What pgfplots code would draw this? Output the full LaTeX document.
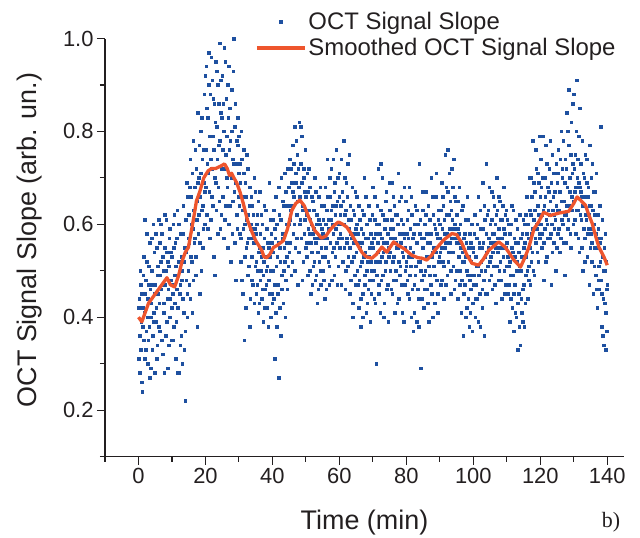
\documentclass[border=0pt]{standalone}
\usepackage{pgfplots}
\pgfplotsset{compat=1.18}
\usepackage{fontspec}
\setmainfont{Liberation Sans}
\newfontfamily\seriffont{Liberation Serif}
\definecolor{dotblue}{RGB}{30,80,160}
\definecolor{smred}{RGB}{238,85,45}
\definecolor{axgray}{RGB}{35,31,32}
\pgfplotsset{
  dotlegend/.style={legend image code/.code={\draw[mark repeat=2,mark phase=2,##1] plot coordinates {(0bp,0bp) (24bp,0bp) (48bp,0bp)};}},
  linelegend/.style={legend image code/.code={\draw[##1] (0bp,0bp) -- (48bp,0bp);}},
  dots/.style={dotblue, only marks, mark=square*, mark size=1.3bp, mark options={draw=dotblue, fill=dotblue, line width=0.4bp}},
}
\begin{document}
\begin{tikzpicture}
\path[use as bounding box] (-105bp,-81.5bp) rectangle (535bp,456.5bp);
\begin{axis}[
  scale only axis, width=519bp, height=418bp,
  xmin=-10, xmax=145, ymin=0.1, ymax=1.0,
  axis x line*=bottom, axis y line*=left,
  axis line style={axgray, line width=1.2bp, -},
  xtick align=outside, ytick align=outside,
  major tick length=8bp, minor tick length=5bp,
  tick style={axgray, line width=1.1bp},
  xtick={0,20,40,60,80,100,120,140},
  minor xtick={-10,10,30,50,70,90,110,130},
  ytick={0.2,0.4,0.6,0.8,1.0},
  minor ytick={0.1,0.3,0.5,0.7,0.9},
  yticklabel style={/pgf/number format/.cd, fixed, fixed zerofill, precision=1},
  /pgf/number format/assume math mode=true,
  tick label style={font=\fontsize{22}{26}\selectfont, text=axgray},
  label style={font=\fontsize{27}{32}\selectfont, text=axgray},
  xlabel={Time (min)},
  ylabel={OCT Signal Slope (arb. un.)},
  xlabel style={at={(axis description cs:0.5,-0.157)}, anchor=center},
  ylabel style={at={(axis description cs:-0.1445,0.518)}, anchor=center},
  clip mode=individual,
  legend style={at={(axis description cs:0.289,1.068)}, anchor=north west, draw=none, fill=none,
    font=\fontsize{24}{28}\selectfont, text=axgray, inner sep=0pt, row sep=3.5bp},
  legend cell align=left,
]
\addplot[dots, dotlegend]
coordinates {
(0,0.31)(0.2,0.44)(0.4,0.28)(0.6,0.47)(0.8,0.39)(1,0.26)(1.2,0.42)(1.4,0.49)(1.6,0.35)(1.8,0.61)
(2,0.45)(2.2,0.33)(2.4,0.52)(2.6,0.40)(2.8,0.30)(3,0.47)(3.2,0.38)(3.4,0.56)(3.6,0.29)(3.8,0.43)
(4,0.50)(4.2,0.36)(4.4,0.60)(4.6,0.41)(4.8,0.28)
(5,0.47)(5.2,0.39)(5.4,0.55)(5.6,0.34)(5.8,0.49)(6,0.61)(6.2,0.43)(6.4,0.37)(6.6,0.52)(6.8,0.46)
(7,0.58)(7.2,0.32)(7.4,0.50)(7.6,0.41)(7.8,0.62)(8,0.47)(8.2,0.36)(8.4,0.54)(8.6,0.44)(8.8,0.29)
(9,0.51)(9.2,0.57)(9.4,0.40)(9.6,0.48)(9.8,0.35)
(10,0.53)(10.2,0.45)(10.4,0.60)(10.6,0.38)(10.8,0.49)(11,0.56)(11.2,0.31)(11.4,0.46)(11.6,0.63)(11.8,0.42)
(12,0.52)(12.2,0.28)(12.4,0.47)(12.6,0.58)(12.8,0.36)(13,0.50)(13.2,0.44)(13.4,0.64)(13.6,0.33)(13.8,0.55)
(14,0.22)(14.2,0.48)(14.4,0.69)(14.6,0.40)(14.8,0.57)
(15,0.62)(15.2,0.47)(15.4,0.74)(15.6,0.53)(15.8,0.66)(16,0.41)(16.2,0.59)(16.4,0.78)(16.6,0.56)(16.8,0.68)
(17,0.49)(17.2,0.72)(17.4,0.61)(17.6,0.84)(17.8,0.58)(18,0.70)(18.2,0.45)(18.4,0.66)(18.6,0.80)(18.8,0.63)
(19,0.74)(19.2,0.55)(19.4,0.69)(19.6,0.88)(19.8,0.60)
(20,0.76)(20.2,0.94)(20.4,0.62)(20.6,0.83)(20.8,0.71)(21,0.97)(21.2,0.57)(21.4,0.88)(21.6,0.74)(21.8,0.66)
(22,0.91)(22.2,0.79)(22.4,0.53)(22.6,0.86)(22.8,0.70)(23,0.95)(23.2,0.63)(23.4,0.81)(23.6,0.90)(23.8,0.68)
(24,0.77)(24.2,0.99)(24.4,0.59)(24.6,0.84)(24.8,0.72)
(25,0.92)(25.2,0.66)(25.4,0.80)(25.6,0.98)(25.8,0.61)(26,0.75)(26.2,0.87)(26.4,0.70)(26.6,0.55)(26.8,0.83)
(27,0.94)(27.2,0.64)(27.4,0.78)(27.6,0.71)(27.8,0.89)(28,0.58)(28.2,0.74)(28.4,1.00)(28.6,0.67)(28.8,0.81)
(29,0.48)(29.2,0.73)(29.4,0.62)(29.6,0.77)(29.8,0.66)
(30,0.79)(30.2,0.58)(30.4,0.69)(30.6,0.52)(30.8,0.74)(31,0.63)(31.2,0.45)(31.4,0.71)(31.6,0.35)(31.8,0.60)
(32,0.66)(32.2,0.55)(32.4,0.75)(32.6,0.49)(32.8,0.62)(33,0.57)(33.2,0.68)(33.4,0.44)(33.6,0.59)(33.8,0.53)
(34,0.64)(34.2,0.47)(34.4,0.56)(34.6,0.70)(34.8,0.51)
(35,0.58)(35.2,0.45)(35.4,0.62)(35.6,0.50)(35.8,0.41)(36,0.55)(36.2,0.67)(36.4,0.48)(36.6,0.53)(36.8,0.44)
(37,0.60)(37.2,0.39)(37.4,0.52)(37.6,0.57)(37.8,0.46)(38,0.63)(38.2,0.50)(38.4,0.42)(38.6,0.56)(38.8,0.48)
(39,0.69)(39.2,0.53)(39.4,0.40)(39.6,0.58)(39.8,0.45)
(40,0.61)(40.2,0.50)(40.4,0.44)(40.6,0.31)(40.8,0.57)(41,0.66)(41.2,0.38)(41.4,0.53)(41.6,0.47)(41.8,0.27)
(42,0.62)(42.2,0.55)(42.4,0.36)(42.6,0.70)(42.8,0.49)(43,0.58)(43.2,0.43)(43.4,0.64)(43.6,0.52)(43.8,0.40)
(44,0.67)(44.2,0.56)(44.4,0.46)(44.6,0.72)(44.8,0.60)
(45,0.54)(45.2,0.74)(45.4,0.63)(45.6,0.49)(45.8,0.69)(46,0.77)(46.2,0.58)(46.4,0.66)(46.6,0.81)(46.8,0.55)
(47,0.71)(47.2,0.62)(47.4,0.75)(47.6,0.47)(47.8,0.68)(48,0.82)(48.2,0.60)(48.4,0.73)(48.6,0.57)(48.8,0.79)
(49,0.64)(49.2,0.52)(49.4,0.70)(49.6,0.61)(49.8,0.76)
(50,0.66)(50.2,0.56)(50.4,0.71)(50.6,0.49)(50.8,0.63)(51,0.58)(51.2,0.68)(51.4,0.45)(51.6,0.60)(51.8,0.54)
(52,0.65)(52.2,0.51)(52.4,0.59)(52.6,0.70)(52.8,0.48)(53,0.56)(53.2,0.62)(53.4,0.43)(53.6,0.57)(53.8,0.66)
(54,0.52)(54.2,0.60)(54.4,0.47)(54.6,0.55)(54.8,0.64)
(55,0.50)(55.2,0.61)(55.4,0.57)(55.6,0.44)(55.8,0.68)(56,0.55)(56.2,0.63)(56.4,0.74)(56.6,0.52)(56.8,0.59)
(57,0.47)(57.2,0.66)(57.4,0.61)(57.6,0.72)(57.8,0.54)(58,0.64)(58.2,0.58)(58.4,0.49)(58.6,0.69)(58.8,0.62)
(59,0.76)(59.2,0.56)(59.4,0.65)(59.6,0.51)(59.8,0.60)
(60,0.71)(60.2,0.58)(60.4,0.64)(60.6,0.47)(60.8,0.67)(61,0.60)(61.2,0.78)(61.4,0.55)(61.6,0.62)(61.8,0.50)
(62,0.69)(62.2,0.57)(62.4,0.73)(62.6,0.53)(62.8,0.61)(63,0.45)(63.2,0.64)(63.4,0.58)(63.6,0.52)(63.8,0.68)
(64,0.40)(64.2,0.56)(64.4,0.62)(64.6,0.49)(64.8,0.59)
(65,0.54)(65.2,0.66)(65.4,0.47)(65.6,0.58)(65.8,0.42)(66,0.61)(66.2,0.51)(66.4,0.38)(66.6,0.56)(66.8,0.63)
(67,0.45)(67.2,0.53)(67.4,0.70)(67.6,0.49)(67.8,0.57)(68,0.41)(68.2,0.60)(68.4,0.52)(68.6,0.46)(68.8,0.64)
(69,0.55)(69.2,0.39)(69.4,0.58)(69.6,0.50)(69.8,0.62)
(70,0.48)(70.2,0.57)(70.4,0.44)(70.6,0.66)(70.8,0.52)(71,0.30)(71.2,0.60)(71.4,0.54)(71.6,0.72)(71.8,0.47)
(72,0.58)(72.2,0.41)(72.4,0.63)(72.6,0.53)(72.8,0.70)(73,0.49)(73.2,0.56)(73.4,0.43)(73.6,0.61)(73.8,0.52)
(74,0.67)(74.2,0.46)(74.4,0.58)(74.6,0.39)(74.8,0.55)
(75,0.63)(75.2,0.50)(75.4,0.57)(75.6,0.69)(75.8,0.45)(76,0.59)(76.2,0.53)(76.4,0.64)(76.6,0.41)(76.8,0.56)
(77,0.48)(77.2,0.62)(77.4,0.55)(77.6,0.71)(77.8,0.44)(78,0.58)(78.2,0.51)(78.4,0.66)(78.6,0.47)(78.8,0.54)
(79,0.60)(79.2,0.39)(79.4,0.57)(79.6,0.50)(79.8,0.65)
(80,0.52)(80.2,0.61)(80.4,0.45)(80.6,0.57)(80.8,0.68)(81,0.49)(81.2,0.55)(81.4,0.40)(81.6,0.62)(81.8,0.53)
(82,0.37)(82.2,0.58)(82.4,0.47)(82.6,0.64)(82.8,0.51)(83,0.39)(83.2,0.56)(83.4,0.60)(83.6,0.44)(83.8,0.73)
(84,0.52)(84.2,0.29)(84.4,0.57)(84.6,0.48)(84.8,0.63)
(85,0.55)(85.2,0.42)(85.4,0.60)(85.6,0.50)(85.8,0.67)(86,0.46)(86.2,0.56)(86.4,0.53)(86.6,0.39)(86.8,0.61)
(87,0.49)(87.2,0.58)(87.4,0.70)(87.6,0.45)(87.8,0.54)(88,0.62)(88.2,0.51)(88.4,0.43)(88.6,0.59)(88.8,0.66)
(89,0.48)(89.2,0.57)(89.4,0.41)(89.6,0.63)(89.8,0.53)
(90,0.60)(90.2,0.47)(90.4,0.55)(90.6,0.69)(90.8,0.52)(91,0.64)(91.2,0.44)(91.4,0.58)(91.6,0.75)(91.8,0.56)
(92,0.62)(92.2,0.49)(92.4,0.67)(92.6,0.54)(92.8,0.71)(93,0.59)(93.2,0.45)(93.4,0.63)(93.6,0.57)(93.8,0.68)
(94,0.51)(94.2,0.74)(94.4,0.60)(94.6,0.48)(94.8,0.65)
(95,0.56)(95.2,0.62)(95.4,0.44)(95.6,0.58)(95.8,0.68)(96,0.50)(96.2,0.55)(96.4,0.41)(96.6,0.63)(96.8,0.52)
(97,0.36)(97.2,0.57)(97.4,0.47)(97.6,0.61)(97.8,0.53)(98,0.42)(98.2,0.66)(98.4,0.49)(98.6,0.55)(98.8,0.38)
(99,0.58)(99.2,0.46)(99.4,0.52)(99.6,0.60)(99.8,0.43)
(100,0.54)(100.2,0.47)(100.4,0.62)(100.6,0.40)(100.8,0.51)(101,0.57)(101.2,0.44)(101.4,0.66)(101.6,0.49)(101.8,0.55)
(102,0.38)(102.2,0.59)(102.4,0.52)(102.6,0.46)(102.8,0.69)(103,0.56)(103.2,0.36)(103.4,0.61)(103.6,0.50)(103.8,0.73)
(104,0.54)(104.2,0.45)(104.4,0.63)(104.6,0.57)(104.8,0.48)
(105,0.60)(105.2,0.53)(105.4,0.67)(105.6,0.46)(105.8,0.58)(106,0.51)(106.2,0.64)(106.4,0.56)(106.6,0.43)(106.8,0.62)
(107,0.70)(107.2,0.54)(107.4,0.48)(107.6,0.59)(107.8,0.65)(108,0.52)(108.2,0.57)(108.4,0.44)(108.6,0.61)(108.8,0.55)
(109,0.68)(109.2,0.50)(109.4,0.58)(109.6,0.47)(109.8,0.63)
(110,0.56)(110.2,0.45)(110.4,0.60)(110.6,0.51)(110.8,0.39)(111,0.58)(111.2,0.49)(111.4,0.64)(111.6,0.42)(111.8,0.54)
(112,0.37)(112.2,0.57)(112.4,0.47)(112.6,0.61)(112.8,0.40)(113,0.52)(113.2,0.33)(113.4,0.56)(113.6,0.45)(113.8,0.62)
(114,0.34)(114.2,0.50)(114.4,0.41)(114.6,0.58)(114.8,0.46)
(115,0.55)(115.2,0.38)(115.4,0.60)(115.6,0.49)(115.8,0.53)(116,0.66)(116.2,0.44)(116.4,0.57)(116.6,0.51)(116.8,0.63)
(117,0.47)(117.2,0.70)(117.4,0.58)(117.6,0.54)(117.8,0.78)(118,0.61)(118.2,0.49)(118.4,0.67)(118.6,0.56)(118.8,0.72)
(119,0.59)(119.2,0.64)(119.4,0.52)(119.6,0.69)(119.8,0.57)
(120,0.66)(120.2,0.74)(120.4,0.55)(120.6,0.62)(120.8,0.70)(121,0.48)(121.2,0.64)(121.4,0.59)(121.6,0.77)(121.8,0.61)
(122,0.53)(122.2,0.68)(122.4,0.63)(122.6,0.72)(122.8,0.57)(123,0.65)(123.2,0.47)(123.4,0.60)(123.6,0.75)(123.8,0.66)
(124,0.56)(124.2,0.62)(124.4,0.71)(124.6,0.50)(124.8,0.64)
(125,0.69)(125.2,0.58)(125.4,0.76)(125.6,0.63)(125.8,0.54)(126,0.67)(126.2,0.80)(126.4,0.61)(126.6,0.72)(126.8,0.56)
(127,0.65)(127.2,0.49)(127.4,0.74)(127.6,0.62)(127.8,0.84)(128,0.68)(128.2,0.59)(128.4,0.77)(128.6,0.64)(128.8,0.70)
(129,0.55)(129.2,0.82)(129.4,0.66)(129.6,0.73)(129.8,0.60)
(130,0.88)(130.2,0.67)(130.4,0.75)(130.6,0.58)(130.8,0.91)(131,0.70)(131.2,0.63)(131.4,0.79)(131.6,0.54)(131.8,0.68)
(132,0.73)(132.2,0.61)(132.4,0.66)(132.6,0.50)(132.8,0.71)(133,0.64)(133.2,0.57)(133.4,0.75)(133.6,0.62)(133.8,0.69)
(134,0.53)(134.2,0.66)(134.4,0.59)(134.6,0.47)(134.8,0.64)
(135,0.58)(135.2,0.70)(135.4,0.52)(135.6,0.63)(135.8,0.45)(136,0.60)(136.2,0.55)(136.4,0.67)(136.6,0.49)(136.8,0.57)
(137,0.42)(137.2,0.62)(137.4,0.51)(137.6,0.46)(137.8,0.56)(138,0.81)(138.2,0.48)(138.4,0.38)(138.6,0.53)(138.8,0.44)
(139,0.34)(139.2,0.50)(139.4,0.58)(139.6,0.41)(139.8,0.37)(140,0.47)
};
\addlegendentry{OCT Signal Slope}
\addplot[dots, forget plot]
coordinates {
(0.1,0.42)(0.3,0.36)(0.5,0.50)(0.7,0.33)(0.9,0.45)(1.1,0.24)(1.3,0.38)(1.5,0.53)(1.7,0.41)(1.9,0.31)
(2.1,0.48)(2.3,0.37)(2.5,0.58)(2.7,0.44)(2.9,0.35)(3.1,0.51)(3.3,0.27)(3.5,0.46)(3.7,0.40)(3.9,0.57)
(4.1,0.33)(4.3,0.47)(4.5,0.39)(4.7,0.54)(4.9,0.45)
(5.1,0.58)(5.3,0.42)(5.5,0.31)(5.7,0.51)(5.9,0.45)(6.1,0.38)(6.3,0.56)(6.5,0.49)(6.7,0.60)(6.9,0.35)
(7.1,0.47)(7.3,0.53)(7.5,0.43)(7.7,0.28)(7.9,0.55)(8.1,0.50)(8.3,0.61)(8.5,0.39)(8.7,0.52)(8.9,0.46)
(9.1,0.34)(9.3,0.59)(9.5,0.44)(9.7,0.54)(9.9,0.42)
(10.1,0.47)(10.3,0.35)(10.5,0.55)(10.7,0.62)(10.9,0.43)(11.1,0.51)(11.3,0.39)(11.5,0.57)(11.7,0.28)(11.9,0.49)
(12.1,0.60)(12.3,0.45)(12.5,0.34)(12.7,0.53)(12.9,0.48)(13.1,0.30)(13.3,0.58)(13.5,0.41)(13.7,0.52)(13.9,0.37)
(14.1,0.61)(14.3,0.54)(14.5,0.45)(14.7,0.66)(14.9,0.50)
(15.1,0.56)(15.3,0.68)(15.5,0.44)(15.7,0.60)(15.9,0.52)(16.1,0.71)(16.3,0.48)(16.5,0.63)(16.7,0.57)(16.9,0.76)
(17.1,0.53)(17.3,0.65)(17.5,0.38)(17.7,0.69)(17.9,0.62)(18.1,0.77)(18.3,0.56)(18.5,0.71)(18.7,0.50)(18.9,0.83)
(19.1,0.64)(19.3,0.59)(19.5,0.76)(19.7,0.67)(19.9,0.92)
(20.1,0.68)(20.3,0.85)(20.5,0.73)(20.7,0.59)(20.9,0.90)(21.1,0.67)(21.3,0.79)(21.5,0.61)(21.7,0.96)(21.9,0.72)
(22.1,0.64)(22.3,0.87)(22.5,0.76)(22.7,0.49)(22.9,0.82)(23.1,0.69)(23.3,0.93)(23.5,0.74)(23.7,0.58)(23.9,0.86)
(24.1,0.65)(24.3,0.78)(24.5,0.91)(24.7,0.62)(24.9,0.83)
(25.1,0.76)(25.3,0.86)(25.5,0.57)(25.7,0.72)(25.9,0.95)(26.1,0.64)(26.3,0.79)(26.5,0.68)(26.7,0.90)(26.9,0.60)
(27.1,0.76)(27.3,0.85)(27.5,0.52)(27.7,0.70)(27.9,0.80)(28.1,0.65)(28.3,0.93)(28.5,0.73)(28.7,0.56)(28.9,0.86)
(29.1,0.69)(29.3,0.78)(29.5,0.59)(29.7,0.83)(29.9,0.71)
(30.1,0.64)(30.3,0.73)(30.5,0.57)(30.7,0.80)(30.9,0.48)(31.1,0.66)(31.3,0.59)(31.5,0.76)(31.7,0.53)(31.9,0.69)
(32.1,0.42)(32.3,0.61)(32.5,0.56)(32.7,0.72)(32.9,0.51)(33.1,0.64)(33.3,0.38)(33.5,0.60)(33.7,0.66)(33.9,0.48)
(34.1,0.57)(34.3,0.62)(34.5,0.43)(34.7,0.59)(34.9,0.67)
(35.1,0.52)(35.3,0.60)(35.5,0.47)(35.7,0.65)(35.9,0.54)(36.1,0.43)(36.3,0.58)(36.5,0.50)(36.7,0.62)(36.9,0.46)
(37.1,0.55)(37.3,0.49)(37.5,0.64)(37.7,0.42)(37.9,0.53)(38.1,0.47)(38.3,0.59)(38.5,0.51)(38.7,0.38)(38.9,0.55)
(39.1,0.45)(39.3,0.61)(39.5,0.50)(39.7,0.56)(39.9,0.43)
(40.1,0.54)(40.3,0.63)(40.5,0.47)(40.7,0.59)(40.9,0.41)(41.1,0.51)(41.3,0.60)(41.5,0.45)(41.7,0.56)(41.9,0.68)
(42.1,0.42)(42.3,0.52)(42.5,0.61)(42.7,0.46)(42.9,0.57)(43.1,0.65)(43.3,0.50)(43.5,0.55)(43.7,0.71)(43.9,0.48)
(44.1,0.60)(44.3,0.53)(44.5,0.64)(44.7,0.51)(44.9,0.68)
(45.1,0.61)(45.3,0.56)(45.5,0.72)(45.7,0.64)(45.9,0.52)(46.1,0.67)(46.3,0.73)(46.5,0.60)(46.7,0.50)(46.9,0.69)
(47.1,0.78)(47.3,0.57)(47.5,0.65)(47.7,0.72)(47.9,0.54)(48.1,0.66)(48.3,0.61)(48.5,0.81)(48.7,0.69)(48.9,0.48)
(49.1,0.63)(49.3,0.72)(49.5,0.58)(49.7,0.67)(49.9,0.55)
(50.1,0.62)(50.3,0.53)(50.5,0.67)(50.7,0.59)(50.9,0.72)(51.1,0.50)(51.3,0.61)(51.5,0.56)(51.7,0.66)(51.9,0.47)
(52.1,0.58)(52.3,0.63)(52.5,0.52)(52.7,0.57)(52.9,0.67)(53.1,0.49)(53.3,0.60)(53.5,0.54)(53.7,0.46)(53.9,0.61)
(54.1,0.57)(54.3,0.68)(54.5,0.50)(54.7,0.59)(54.9,0.53)
(55.1,0.58)(55.3,0.48)(55.5,0.64)(55.7,0.53)(55.9,0.60)(56.1,0.46)(56.3,0.57)(56.5,0.66)(56.7,0.61)(56.9,0.51)
(57.1,0.70)(57.3,0.56)(57.5,0.63)(57.7,0.48)(57.9,0.60)(58.1,0.74)(58.3,0.55)(58.5,0.67)(58.7,0.53)(58.9,0.59)
(59.1,0.64)(59.3,0.47)(59.5,0.70)(59.7,0.57)(59.9,0.66)
(60.1,0.55)(60.3,0.62)(60.5,0.74)(60.7,0.57)(60.9,0.52)(61.1,0.65)(61.3,0.60)(61.5,0.70)(61.7,0.46)(61.9,0.63)
(62.1,0.56)(62.3,0.66)(62.5,0.51)(62.7,0.59)(62.9,0.75)(63.1,0.55)(63.3,0.48)(63.5,0.61)(63.7,0.57)(63.9,0.43)
(64.1,0.63)(64.3,0.53)(64.5,0.58)(64.7,0.67)(64.9,0.47)
(65.1,0.60)(65.3,0.50)(65.5,0.56)(65.7,0.64)(65.9,0.48)(66.1,0.55)(66.3,0.44)(66.5,0.59)(66.7,0.52)(66.9,0.40)
(67.1,0.58)(67.3,0.62)(67.5,0.47)(67.7,0.54)(67.9,0.66)(68.1,0.50)(68.3,0.43)(68.5,0.57)(68.7,0.53)(68.9,0.48)
(69.1,0.61)(69.3,0.52)(69.5,0.45)(69.7,0.56)(69.9,0.68)
(70.1,0.55)(70.3,0.50)(70.5,0.61)(70.7,0.43)(70.9,0.58)(71.1,0.49)(71.3,0.64)(71.5,0.56)(71.7,0.45)(71.9,0.60)
(72.1,0.52)(72.3,0.73)(72.5,0.48)(72.7,0.57)(72.9,0.62)(73.1,0.54)(73.3,0.40)(73.5,0.59)(73.7,0.50)(73.9,0.65)
(74.1,0.56)(74.3,0.61)(74.5,0.47)(74.7,0.53)(74.9,0.69)
(75.1,0.54)(75.3,0.59)(75.5,0.46)(75.7,0.61)(75.9,0.52)(76.1,0.66)(76.3,0.48)(76.5,0.57)(76.7,0.62)(76.9,0.50)
(77.1,0.55)(77.3,0.43)(77.5,0.60)(77.7,0.52)(77.9,0.65)(78.1,0.49)(78.3,0.56)(78.5,0.61)(78.7,0.41)(78.9,0.58)
(79.1,0.53)(79.3,0.68)(79.5,0.47)(79.7,0.55)(79.9,0.51)
(80.1,0.58)(80.3,0.48)(80.5,0.63)(80.7,0.53)(80.9,0.44)(81.1,0.59)(81.3,0.51)(81.5,0.66)(81.7,0.46)(81.9,0.57)
(82.1,0.54)(82.3,0.41)(82.5,0.60)(82.7,0.49)(82.9,0.56)(83.1,0.63)(83.3,0.46)(83.5,0.52)(83.7,0.38)(83.9,0.58)
(84.1,0.61)(84.3,0.50)(84.5,0.44)(84.7,0.55)(84.9,0.67)
(85.1,0.49)(85.3,0.57)(85.5,0.46)(85.7,0.62)(85.9,0.53)(86.1,0.58)(86.3,0.43)(86.5,0.64)(86.7,0.51)(86.9,0.56)
(87.1,0.61)(87.3,0.47)(87.5,0.53)(87.7,0.66)(87.9,0.40)(88.1,0.55)(88.3,0.60)(88.5,0.49)(88.7,0.54)(88.9,0.71)
(89.1,0.58)(89.3,0.45)(89.5,0.61)(89.7,0.52)(89.9,0.57)
(90.1,0.54)(90.3,0.63)(90.5,0.48)(90.7,0.59)(90.9,0.66)(91.1,0.51)(91.3,0.61)(91.5,0.55)(91.7,0.47)(91.9,0.68)
(92.1,0.58)(92.3,0.76)(92.5,0.52)(92.7,0.62)(92.9,0.56)(93.1,0.65)(93.3,0.50)(93.5,0.72)(93.7,0.61)(93.9,0.54)
(94.1,0.59)(94.3,0.46)(94.5,0.66)(94.7,0.57)(94.9,0.62)
(95.1,0.50)(95.3,0.59)(95.5,0.65)(95.7,0.53)(95.9,0.47)(96.1,0.60)(96.3,0.56)(96.5,0.48)(96.7,0.54)(96.9,0.64)
(97.1,0.45)(97.3,0.52)(97.5,0.58)(97.7,0.40)(97.9,0.56)(98.1,0.50)(98.3,0.61)(98.5,0.44)(98.7,0.53)(98.9,0.48)
(99.1,0.41)(99.3,0.56)(99.5,0.49)(99.7,0.37)(99.9,0.55)
(100.1,0.49)(100.3,0.58)(100.5,0.44)(100.7,0.53)(100.9,0.47)(101.1,0.60)(101.3,0.51)(101.5,0.39)(101.7,0.56)(101.9,0.45)
(102.1,0.63)(102.3,0.50)(102.5,0.55)(102.7,0.42)(102.9,0.59)(103.1,0.48)(103.3,0.64)(103.5,0.53)(103.7,0.45)(103.9,0.58)
(104.1,0.62)(104.3,0.51)(104.5,0.55)(104.7,0.68)(104.9,0.52)
(105.1,0.56)(105.3,0.49)(105.5,0.61)(105.7,0.54)(105.9,0.66)(106.1,0.58)(106.3,0.47)(106.5,0.60)(106.7,0.55)(106.9,0.51)
(107.1,0.63)(107.3,0.57)(107.5,0.66)(107.7,0.50)(107.9,0.55)(108.1,0.61)(108.3,0.48)(108.5,0.57)(108.7,0.64)(108.9,0.53)
(109.1,0.59)(109.3,0.45)(109.5,0.62)(109.7,0.55)(109.9,0.51)
(110.1,0.61)(110.3,0.53)(110.5,0.47)(110.7,0.58)(110.9,0.52)(111.1,0.44)(111.3,0.60)(111.5,0.55)(111.7,0.49)(111.9,0.63)
(112.1,0.45)(112.3,0.53)(112.5,0.41)(112.7,0.56)(112.9,0.50)(113.1,0.59)(113.3,0.43)(113.5,0.54)(113.7,0.38)(113.9,0.51)
(114.1,0.57)(114.3,0.44)(114.5,0.53)(114.7,0.39)(114.9,0.61)
(115.1,0.47)(115.3,0.56)(115.5,0.43)(115.7,0.62)(115.9,0.58)(116.1,0.50)(116.3,0.60)(116.5,0.48)(116.7,0.70)(116.9,0.55)
(117.1,0.62)(117.3,0.52)(117.5,0.66)(117.7,0.59)(117.9,0.50)(118.1,0.69)(118.3,0.63)(118.5,0.57)(118.7,0.76)(118.9,0.60)
(119.1,0.54)(119.3,0.71)(119.5,0.62)(119.7,0.58)(119.9,0.79)
(120.1,0.60)(120.3,0.68)(120.5,0.58)(120.7,0.79)(120.9,0.63)(121.1,0.56)(121.3,0.70)(121.5,0.66)(121.7,0.52)(121.9,0.73)
(122.1,0.60)(122.3,0.57)(122.5,0.67)(122.7,0.62)(122.9,0.78)(123.1,0.58)(123.3,0.69)(123.5,0.54)(123.7,0.63)(123.9,0.71)
(124.1,0.59)(124.3,0.67)(124.5,0.61)(124.7,0.73)(124.9,0.55)
(125.1,0.63)(125.3,0.71)(125.5,0.59)(125.7,0.67)(125.9,0.74)(126.1,0.57)(126.3,0.65)(126.5,0.70)(126.7,0.60)(126.9,0.78)
(127.1,0.62)(127.3,0.69)(127.5,0.56)(127.7,0.72)(127.9,0.64)(128.1,0.80)(128.3,0.61)(128.5,0.89)(128.7,0.67)(128.9,0.58)
(129.1,0.75)(129.3,0.63)(129.5,0.71)(129.7,0.86)(129.9,0.65)
(130.1,0.72)(130.3,0.61)(130.5,0.68)(130.7,0.80)(130.9,0.63)(131.1,0.74)(131.3,0.57)(131.5,0.69)(131.7,0.85)(131.9,0.62)
(132.1,0.67)(132.3,0.55)(132.5,0.78)(132.7,0.64)(132.9,0.59)(133.1,0.70)(133.3,0.52)(133.5,0.66)(133.7,0.61)(133.9,0.74)
(134.1,0.58)(134.3,0.68)(134.5,0.62)(134.7,0.77)(134.9,0.55)
(135.1,0.64)(135.3,0.56)(135.5,0.73)(135.7,0.59)(135.9,0.67)(136.1,0.51)(136.3,0.62)(136.5,0.58)(136.7,0.71)(136.9,0.46)
(137.1,0.55)(137.3,0.59)(137.5,0.48)(137.7,0.64)(137.9,0.52)(138.1,0.57)(138.3,0.45)(138.5,0.61)(138.7,0.36)(138.9,0.50)
(139.1,0.55)(139.3,0.43)(139.5,0.33)(139.7,0.52)(139.9,0.46)
};
\addplot[smred, line width=3.3bp, line join=round, no marks, linelegend]
coordinates {
(0,0.40)(1,0.39)(2,0.41)(3,0.43)(4,0.44)(5,0.45)(6,0.46)(7,0.47)(8,0.48)(8.5,0.485)
(9.5,0.47)(10.8,0.465)(12,0.49)(13,0.52)(14,0.54)(14.9,0.55)(16.4,0.61)(17.3,0.65)(18.3,0.67)(19.5,0.70)
(20.8,0.715)(21.8,0.72)(23,0.72)(24.5,0.725)(25.7,0.73)(26.5,0.72)(27.2,0.705)(27.8,0.71)(28.5,0.70)(29.3,0.69)
(30.3,0.67)(31.3,0.645)(32.5,0.61)(33.8,0.585)(35,0.565)(36.8,0.544)(37.5,0.53)(38.3,0.528)(39.2,0.535)(40.3,0.55)
(41.5,0.555)(43.3,0.565)(44.5,0.59)(45.8,0.63)(47,0.645)(48.2,0.652)(49.5,0.64)(50.8,0.616)(52.6,0.587)(54.7,0.57)
(56,0.575)(57.1,0.587)(58.5,0.598)(59.7,0.605)(61,0.600)(62.2,0.594)(63.5,0.58)(64.6,0.566)(66.7,0.54)(68,0.53)
(69.7,0.527)(71,0.535)(72.7,0.551)(74.2,0.54)(76.2,0.562)(77.5,0.555)(79.2,0.548)(81.7,0.533)(83.5,0.528)(84.7,0.527)
(86.1,0.523)(87.5,0.533)(88.5,0.544)(91.1,0.566)(93.6,0.58)(95,0.578)(96.6,0.559)(98,0.535)(99.6,0.516)(101.6,0.512)
(103,0.525)(104.6,0.544)(107.6,0.562)(109.5,0.551)(111,0.535)(112.1,0.523)(114.1,0.508)(115.5,0.53)(116.6,0.551)(118.1,0.59)
(119.5,0.605)(121,0.626)(123,0.619)(125.5,0.624)(128.5,0.628)(130,0.645)(131,0.659)(132,0.652)(133.5,0.641)(134.5,0.62)
(135.5,0.602)(136.5,0.575)(137.5,0.551)(139,0.53)(140,0.512)
};
\addlegendentry{Smoothed OCT Signal Slope}
\end{axis}
\node[font=\seriffont\fontsize{22}{26}\selectfont, text=axgray] at (506bp,-65.5bp) {b)};
\end{tikzpicture}
\end{document}
